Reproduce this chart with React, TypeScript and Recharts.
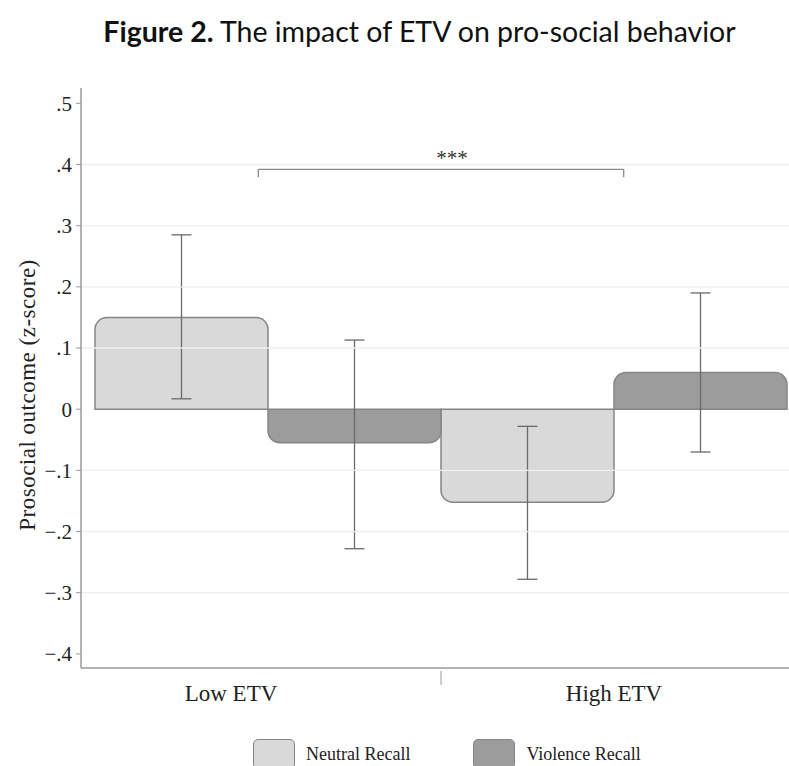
import React from 'react';
import {
  BarChart,
  Bar,
  XAxis,
  YAxis,
  ErrorBar,
  ReferenceLine,
} from 'recharts';

// Group means with 95% CI bounds, per recall condition
const groups = ['Low ETV', 'High ETV'];
const neutralMeans = [0.15, -0.152];
const neutralLower = [0.017, -0.278];
const neutralUpper = [0.285, -0.028];
const violenceMeans = [-0.055, 0.06];
const violenceLower = [-0.228, -0.07];
const violenceUpper = [0.113, 0.19];

const yTicks = [-0.4, -0.3, -0.2, -0.1, 0, 0.1, 0.2, 0.3, 0.4, 0.5];
const gridValues = [-0.3, -0.2, -0.1, 0.1, 0.2, 0.3, 0.4];

// significance bracket, x given as a fraction of the category range
const bracketLeft = 0.236;
const bracketRight = 0.764;
const bracketY = 0.392;
const bracketDrop = 0.379;

const SERIF = '"Liberation Serif", "Times New Roman", serif';
const NEUTRAL_FILL = '#d9d9d9';
const VIOLENCE_FILL = '#9c9c9c';
const BAR_STROKE = '#858585';
const AXIS_COLOR = '#9a9a9a';
const BRACKET_COLOR = '#8a8a8a';

const data = groups.map((g, i) => ({
  group: g,
  neutral: neutralMeans[i],
  neutralErr: [neutralMeans[i] - neutralLower[i], neutralUpper[i] - neutralMeans[i]],
  violence: violenceMeans[i],
  violenceErr: [violenceMeans[i] - violenceLower[i], violenceUpper[i] - violenceMeans[i]],
}));

const formatTick = (v: number) => {
  if (Math.abs(v) < 1e-9) return '0';
  const digit = Math.round(Math.abs(v) * 10);
  return (v < 0 ? '\u2212' : '') + '.' + digit;
};

// Category label plus the short divider between the two groups
const GroupTick = (props: any) => {
  const { x, y, payload, index } = props;
  const half = payload.offset || 0;
  return (
    <g>
      {index === 0 && (
        <line x1={x + half} x2={x + half} y1={y + 3} y2={y + 17} stroke={AXIS_COLOR} strokeWidth={1} />
      )}
      <text
        x={index === 0 ? x - 37 : x}
        y={y + 33}
        textAnchor="middle"
        fontFamily={SERIF}
        fontSize={23}
        fill="#222"
      >
        {payload.value}
      </text>
    </g>
  );
};

const YLabel = (props: any) => {
  const vb = props.viewBox;
  const cx = 27;
  const cy = vb.y + vb.height / 2 + 17;
  return (
    <text
      x={cx}
      y={cy}
      transform={`rotate(-90, ${cx}, ${cy})`}
      textAnchor="middle"
      dominantBaseline="central"
      fontFamily={SERIF}
      fontSize={23}
      letterSpacing={0.5}
      fill="#222"
    >
      Prosocial outcome (z-score)
    </text>
  );
};

const LegendItem = ({ color, label }: { color: string; label: string }) => (
  <div style={{ display: 'flex', alignItems: 'center', gap: 11 }}>
    <div
      style={{
        width: 42,
        height: 30,
        background: color,
        border: `1.5px solid ${BAR_STROKE}`,
        borderRadius: 5,
        boxSizing: 'border-box',
      }}
    />
    <span style={{ fontFamily: SERIF, fontSize: 18, color: '#222' }}>{label}</span>
  </div>
);

export default function App() {
  return (
    <div style={{ position: 'absolute', left: 0, top: 0, width: 789, height: 766, background: '#fff', overflow: 'hidden' }}>
      <div
        style={{
          position: 'absolute',
          top: 14,
          left: 25,
          width: 789,
          textAlign: 'center',
          fontFamily: 'Lato, "Noto Sans", sans-serif',
          fontSize: 28.5,
          color: '#111',
          whiteSpace: 'nowrap',
        }}
      >
        <b>Figure 2.</b> The impact of ETV on pro-social behavior
      </div>

      <BarChart
        width={789}
        height={766}
        data={data}
        margin={{ top: 88, right: 0, bottom: 58, left: 0 }}
        barCategoryGap={0}
        barGap={0}
      >
        <XAxis
          dataKey="group"
          height={40}
          padding={{ left: 14, right: 2 }}
          axisLine={{ stroke: AXIS_COLOR, strokeWidth: 1.5 }}
          tickLine={false}
          tickSize={0}
          tickMargin={0}
          tick={<GroupTick />}
          interval={0}
        />
        <XAxis xAxisId="frac" type="number" domain={[0, 1]} padding={{ left: 14, right: 2 }} hide />
        <YAxis
          width={81}
          domain={[-0.423, 0.525]}
          ticks={yTicks}
          tickFormatter={formatTick}
          allowDataOverflow
          axisLine={{ stroke: AXIS_COLOR, strokeWidth: 1.5 }}
          tickLine={{ stroke: AXIS_COLOR }}
          tickSize={5}
          tickMargin={4}
          tick={{ fontFamily: SERIF, fontSize: 21, fill: '#222' }}
          label={<YLabel />}
        />
        <Bar
          dataKey="neutral"
          fill={NEUTRAL_FILL}
          stroke={BAR_STROKE}
          strokeWidth={1.5}
          radius={[12, 12, 0, 0]}
          isAnimationActive={false}
        >
          <ErrorBar dataKey="neutralErr" width={10} stroke="#6a6a6a" strokeWidth={1.3} />
        </Bar>
        <Bar
          dataKey="violence"
          fill={VIOLENCE_FILL}
          stroke={BAR_STROKE}
          strokeWidth={1.5}
          radius={[12, 12, 0, 0]}
          isAnimationActive={false}
        >
          <ErrorBar dataKey="violenceErr" width={10} stroke="#6a6a6a" strokeWidth={1.3} />
        </Bar>
        {gridValues.map((v) => (
          <ReferenceLine key={v} y={v} stroke="#efefef" strokeWidth={1.3} />
        ))}
        <ReferenceLine
          xAxisId="frac"
          segment={[
            { x: bracketLeft, y: bracketY },
            { x: bracketRight, y: bracketY },
          ]}
          stroke={BRACKET_COLOR}
          strokeWidth={1.3}
          label={{ value: '***', position: 'top', offset: 4, dx: 11, style: { fontFamily: SERIF, fontSize: 21, fill: '#333' } }}
        />
        <ReferenceLine
          xAxisId="frac"
          segment={[
            { x: bracketLeft, y: bracketY },
            { x: bracketLeft, y: bracketDrop },
          ]}
          stroke={BRACKET_COLOR}
          strokeWidth={1.3}
        />
        <ReferenceLine
          xAxisId="frac"
          segment={[
            { x: bracketRight, y: bracketY },
            { x: bracketRight, y: bracketDrop },
          ]}
          stroke={BRACKET_COLOR}
          strokeWidth={1.3}
        />
      </BarChart>

      <div style={{ position: 'absolute', top: 739, left: 253, display: 'flex', gap: 63 }}>
        <LegendItem color={NEUTRAL_FILL} label="Neutral Recall" />
        <LegendItem color={VIOLENCE_FILL} label="Violence Recall" />
      </div>
    </div>
  );
}
